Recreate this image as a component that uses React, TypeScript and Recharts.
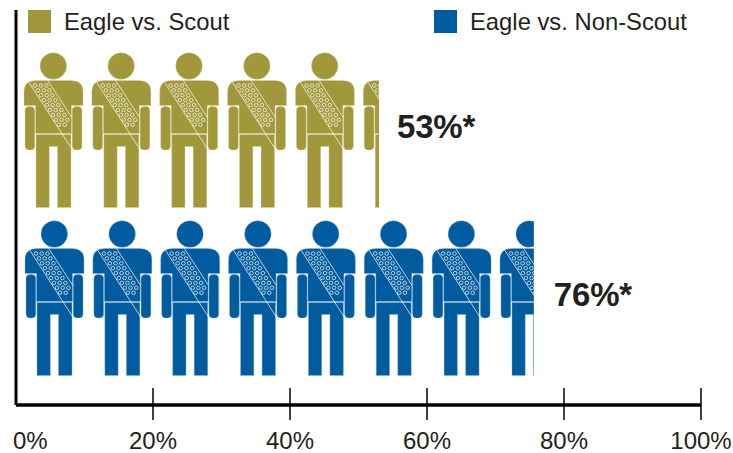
import { Bar, BarChart, Legend, XAxis, YAxis } from "recharts";

const categories = ["Eagle vs. Scout", "Eagle vs. Non-Scout"];
// drawn lengths measured on the picture, the printed labels are separate
const scoutValues = [53, null];
const nonScoutValues = [null, 75.6];
const barLabels = ["53%*", "76%*"];
const xTicks = [0, 20, 40, 60, 80, 100];
const seriesColors = ["#a1983c", "#005c9f"];

const data = categories.map((c, i) => ({
  name: c,
  scout: scoutValues[i],
  nonScout: nonScoutValues[i],
}));

const FONT = "'Liberation Sans', Arial, sans-serif";
const TEXT = "#231f20";
const PERSON_STEP = 67.85;

// rings on the sash, in person coords (origin = left of shoulders, top of head)
const rings: Array<[number, number]> = [];
for (let r = 0; r < 9; r++) {
  for (let c = 0; c < 3; c++) {
    if (r === 8 && c === 2) continue;
    rings.push([11 + c * 5.7 + r * 3, 33 + r * 4.9]);
  }
}

function Person({ x, y, fill, outline }: { x: number; y: number; fill: string; outline: string }) {
  return (
    <g transform={`translate(${x},${y})`}>
      <g fill={fill} stroke={outline} strokeWidth={0.4}>
        <circle cx={29.3} cy={13.5} r={13.3} />
        <path d="M0 53 V39 Q0 28 12 28 H47 Q59 28 59 39 V53 H47.5 V81 H11.5 V53 Z" />
        <rect x={1} y={54} width={9.8} height={43.5} rx={4} />
        <rect x={48.2} y={54} width={9.8} height={43.5} rx={4} />
        <path d="M12 82 H47 V155 H33.5 V94 H25.3 V155 H12 Z" />
      </g>
      <g fill="none" stroke="#fff" strokeWidth={0.7}>
        <path d="M5 30 L47.8 96.5" />
        <path d="M23.7 28 L47.8 65" />
        {rings.map(([cx, cy]) => (
          <circle key={`${cx}-${cy}`} cx={cx} cy={cy} r={1.8} />
        ))}
      </g>
    </g>
  );
}

// one row of people, cut at the end of the bar
function PeopleBar(props: any) {
  const { x, y, width, height, fill, index, outline, offset } = props;
  if (!width) return null;
  const id = `row-${fill.slice(1)}-${index}`;
  const people = [];
  for (let px = x + offset; px < x + width; px += PERSON_STEP) {
    people.push(<Person key={px} x={px} y={y} fill={fill} outline={outline} />);
  }
  return (
    <g>
      <defs>
        <clipPath id={id}>
          <rect x={x} y={y - 1} width={width} height={height + 2} />
        </clipPath>
      </defs>
      <g clipPath={`url(#${id})`}>{people}</g>
      <text
        x={x + width + (index === 0 ? 18 : 20)}
        y={y + 85}
        fill={TEXT}
        fontFamily={FONT}
        fontSize={33}
        fontWeight={700}
        letterSpacing={-0.2}
      >
        {barLabels[index]}
      </text>
    </g>
  );
}

function PercentTick({ x, y, payload }: any) {
  const first = payload.value === 0;
  return (
    <g>
      {!first && <line x1={x} x2={x} y1={388} y2={420} stroke="#000" strokeWidth={1.5} />}
      <text
        x={first ? x - 3 : x}
        y={449}
        textAnchor={first ? "start" : "middle"}
        fill={TEXT}
        fontFamily={FONT}
        fontSize={24}
      >
        {payload.value}%
      </text>
    </g>
  );
}

function LegendRow({ payload }: any) {
  const lefts = [28, 434];
  const items = [...(payload ?? [])].sort((a: any, b: any) => categories.indexOf(a.value) - categories.indexOf(b.value));
  return (
    <div style={{ position: "relative", width: 733, height: 0, fontFamily: FONT, fontSize: 23.8, color: TEXT }}>
      {items.map((p: any, i: number) => (
        <div key={p.value} style={{ position: "absolute", left: lefts[i], top: 10, display: "flex", alignItems: "center", height: 23, whiteSpace: "nowrap" }}>
          <span style={{ width: 23, height: 23, background: p.color, marginRight: 13 }} />
          {p.value}
        </div>
      ))}
    </div>
  );
}

export default function App() {
  return (
    <div style={{ position: "absolute", left: 0, top: 0, width: 733, height: 453, background: "#fff" }}>
      <BarChart
        width={733}
        height={453}
        data={data}
        layout="vertical"
        margin={{ top: 10, right: 32, bottom: 0, left: 15 }}
      >
        <XAxis
          type="number"
          domain={[0, 100]}
          ticks={xTicks}
          interval={0}
          height={48}
          axisLine={{ stroke: "#000", strokeWidth: 3.5 }}
          tickLine={false}
          tick={PercentTick}
        />
        <YAxis
          type="category"
          dataKey="name"
          width={1}
          tick={false}
          tickLine={false}
          axisLine={{ stroke: "#000", strokeWidth: 3 }}
          padding={{ top: 35.5, bottom: 23.5 }}
        />
        <Legend verticalAlign="top" align="left" content={LegendRow} wrapperStyle={{ left: 0, top: 0, margin: 0 }} />
        <Bar
          dataKey="scout"
          name={categories[0]}
          stackId="a"
          barSize={155}
          fill={seriesColors[0]}
          isAnimationActive={false}
          shape={(p: any) => <PeopleBar {...p} outline="#d9d5a8" offset={8} />}
        />
        <Bar
          dataKey="nonScout"
          name={categories[1]}
          stackId="a"
          barSize={155}
          fill={seriesColors[1]}
          isAnimationActive={false}
          shape={(p: any) => <PeopleBar {...p} outline="#8fb6d3" offset={9} />}
        />
      </BarChart>
    </div>
  );
}
